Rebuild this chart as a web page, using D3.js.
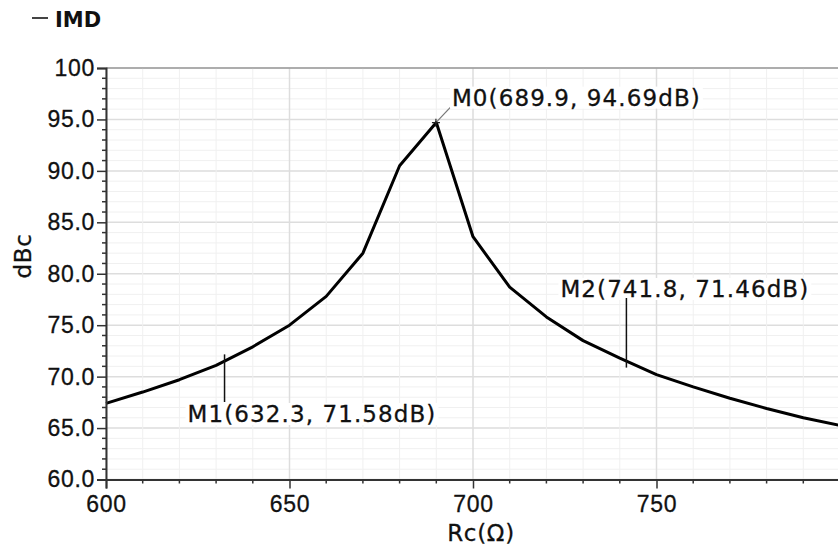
<!DOCTYPE html>
<html>
<head>
<meta charset="utf-8">
<script src="https://cdn.jsdelivr.net/npm/d3@7"></script>
<style>
  body { margin: 0; background: #fff; }
  svg { display: block; font-family: "DejaVu Sans", Verdana, sans-serif; }
</style>
</head>
<body>
<div id="chart"></div>
<script>
// IMD vs Rc (every 10 ohm, plus the peak)
var rc_values  = [600, 610, 620, 630, 640, 650, 660, 670, 680, 690, 700, 710, 720, 730, 740, 750, 760, 770, 780, 790, 800];
var imd_values = [67.4, 68.5, 69.7, 71.1, 72.9, 75.0, 77.8, 82.0, 90.5, 94.7, 83.6, 78.7, 75.8, 73.5, 71.8, 70.2, 69.0, 67.9, 66.9, 66.0, 65.25];

var x_ticks = [600, 650, 700, 750];
var x_tick_labels = ["600", "650", "700", "750"];
var y_ticks = [60, 65, 70, 75, 80, 85, 90, 95, 100];
var y_tick_labels = ["60.0", "65.0", "70.0", "75.0", "80.0", "85.0", "90.0", "95.0", "100"];

// markers: name, x, y
var marker_names = ["M0", "M1", "M2"];
var marker_x = [689.9, 632.3, 741.8];
var marker_y = [94.69, 71.58, 71.46];

var width = 838;
var height = 551;
var margin = {top: 68, bottom: 71.5, left: 106, right: -2};

var svg = d3.select("#chart").append("svg")
    .attr("width", width)
    .attr("height", height);

var x = d3.scaleLinear()
    .domain([600, 800])
    .range([margin.left, width - margin.right]);

var y = d3.scaleLinear()
    .domain([60, 100])
    .range([height - margin.bottom, margin.top]);

var x_minor = d3.range(600, 801, 10);
var y_minor = d3.range(60, 101, 1);

// grid
var grid = svg.append("g").attr("class", "grid");
grid.selectAll("line.ym")
    .data(y_minor)
    .join("line")
    .attr("class", "ym")
    .attr("x1", x(600)).attr("x2", width)
    .attr("y1", d => y(d)).attr("y2", d => y(d))
    .style("stroke", d => d % 5 == 0 ? "#dddddd" : "#f0f0f0")
    .style("stroke-width", d => d % 5 == 0 ? 1.5 : 1);
grid.selectAll("line.xm")
    .data(x_minor)
    .join("line")
    .attr("class", "xm")
    .attr("x1", d => x(d)).attr("x2", d => x(d))
    .attr("y1", y(100)).attr("y2", y(60))
    .style("stroke", d => d % 50 == 0 ? "#dddddd" : "#f0f0f0")
    .style("stroke-width", d => d % 50 == 0 ? 1.5 : 1);

// top border
svg.append("line")
    .attr("x1", x(600)).attr("x2", width)
    .attr("y1", y(100)).attr("y2", y(100))
    .style("stroke", "#777")
    .style("stroke-width", 1.2);

// curve
var line = d3.line()
    .x((d, i) => x(rc_values[i]))
    .y(d => y(d));

svg.append("path")
    .datum(imd_values)
    .attr("d", line)
    .style("fill", "none")
    .style("stroke", "#000")
    .style("stroke-width", 3)
    .style("stroke-linejoin", "round");

// axes
var x_axis = d3.axisBottom(x)
    .tickValues(x_ticks)
    .tickFormat((d, i) => x_tick_labels[i])
    .tickSize(9)
    .tickPadding(7);
var y_axis = d3.axisLeft(y)
    .tickValues(y_ticks)
    .tickFormat((d, i) => y_tick_labels[i])
    .tickSize(9)
    .tickPadding(2);

var gx = svg.append("g")
    .attr("transform", "translate(0," + y(60) + ")")
    .call(x_axis);
var gy = svg.append("g")
    .attr("transform", "translate(" + x(600) + ",0)")
    .call(y_axis);

[gx, gy].forEach(function(g) {
    g.select(".domain").style("stroke", "#333").style("stroke-width", 2);
    g.selectAll(".tick line").style("stroke", "#333").style("stroke-width", 1.5);
    g.selectAll(".tick text")
        .style("font-size", "23px")
        .style("letter-spacing", "0.7px")
        .style("fill", "#111")
        .style("stroke", "#111")
        .style("stroke-width", 0.3);
});

// minor ticks
svg.append("g").selectAll("line")
    .data(x_minor.filter(d => d % 50 != 0))
    .join("line")
    .attr("x1", d => x(d)).attr("x2", d => x(d))
    .attr("y1", y(60)).attr("y2", y(60) + 4)
    .style("stroke", "#333").style("stroke-width", 1.5);
svg.append("g").selectAll("line")
    .data(y_minor.filter(d => d % 5 != 0))
    .join("line")
    .attr("x1", x(600) - 4).attr("x2", x(600))
    .attr("y1", d => y(d)).attr("y2", d => y(d))
    .style("stroke", "#333").style("stroke-width", 1.5);

// axis titles
svg.append("text")
    .text("dBc")
    .attr("transform", "translate(31," + 256 + ") rotate(-90)")
    .attr("text-anchor", "middle")
    .style("font-size", "23px")
    .style("letter-spacing", "0.7px")
    .style("fill", "#111")
    .style("stroke", "#111")
    .style("stroke-width", 0.3);

svg.append("text")
    .text("Rc(\u03A9)")
    .attr("x", 481)
    .attr("y", 541)
    .attr("text-anchor", "middle")
    .style("font-size", "23px")
    .style("letter-spacing", "0.7px")
    .style("fill", "#111")
    .style("stroke", "#111")
    .style("stroke-width", 0.3);

// legend
svg.append("line")
    .attr("x1", 32).attr("x2", 48)
    .attr("y1", 18).attr("y2", 18)
    .style("stroke", "#444").style("stroke-width", 2);
svg.append("text")
    .text("IMD")
    .attr("x", 55).attr("y", 27)
    .style("font-size", "21px")
    .style("font-weight", "bold")
    .style("fill", "#111");

// markers
var label_font = "23px";
function markerLabel(i) {
    return marker_names[i] + "(" + marker_x[i] + ", " + marker_y[i] + "dB)";
}

// M0: diagonal leader up-right
var m0x = x(marker_x[0]), m0y = y(marker_y[0]);
svg.append("line")
    .attr("x1", m0x).attr("y1", m0y)
    .attr("x2", m0x + 16).attr("y2", m0y - 17)
    .style("stroke", "#777").style("stroke-width", 1.2);
svg.append("path")
    .attr("d", "M" + (m0x - 4) + "," + m0y + "h8M" + m0x + "," + (m0y - 4) + "v8")
    .style("stroke", "#222").style("stroke-width", 1.2);

// M1: line down to label
var m1x = x(marker_x[1]), m1y = y(marker_y[1]);
// M2: line up to label
var m2x = x(marker_x[2]), m2y = y(marker_y[2]);

var labels = [
    {i: 0, tx: m0x + 16, ty: m0y - 17},
    {i: 1, tx: m1x - 37, ty: 422},
    {i: 2, tx: m2x - 66, ty: 297}
];

labels.forEach(function(l) {
    var t = svg.append("text")
        .text(markerLabel(l.i))
        .attr("x", l.tx).attr("y", l.ty)
        .style("font-size", label_font)
        .style("letter-spacing", "1.1px")
        .style("fill", "#111")
        .style("stroke", "#111")
        .style("stroke-width", 0.3);
    var bb = t.node().getBBox();
    svg.insert("rect", function() { return t.node(); })
        .attr("x", bb.x - 2).attr("y", bb.y + 2)
        .attr("width", bb.width + 4).attr("height", bb.height - 4)
        .style("fill", "#fff");
});

svg.append("line")
    .attr("x1", m1x).attr("x2", m1x)
    .attr("y1", m1y - 6).attr("y2", 402)
    .style("stroke", "#111").style("stroke-width", 1.5);
svg.append("line")
    .attr("x1", m2x).attr("x2", m2x)
    .attr("y1", 298).attr("y2", m2y + 6)
    .style("stroke", "#111").style("stroke-width", 1.5);
</script>
</body>
</html>
